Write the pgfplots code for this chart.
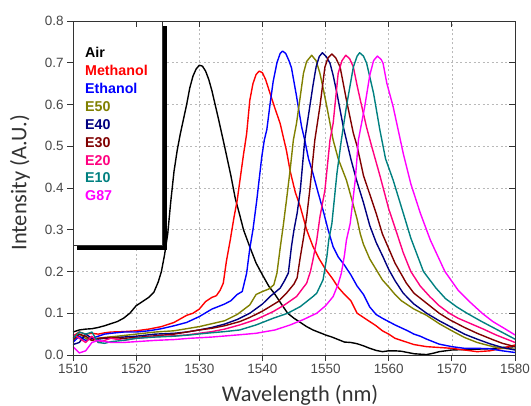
\documentclass[border=0pt]{standalone}
\usepackage{pgfplots}
\pgfplotsset{compat=1.18}
\usepackage{fontspec}
\setmainfont{Liberation Sans}
\newfontfamily\carlito{Carlito}
\definecolor{cAir}{rgb}{0,0,0}
\definecolor{cMeth}{rgb}{1,0,0}
\definecolor{cEth}{rgb}{0,0,1}
\definecolor{cEfifty}{RGB}{128,128,0}
\definecolor{cEforty}{RGB}{0,0,128}
\definecolor{cEthirty}{RGB}{128,0,0}
\definecolor{cEtwenty}{RGB}{255,0,128}
\definecolor{cEten}{RGB}{0,128,128}
\definecolor{cG}{RGB}{255,0,255}
\begin{document}
\begin{tikzpicture}
\begin{axis}[
  scale only axis, width=442bp, height=334bp,
  xmin=1510, xmax=1580, ymin=0, ymax=0.8,
  xtick={1510,1520,...,1580}, ytick={0,0.1,...,0.8},
  tick align=outside, xtick pos=left, ytick pos=left,
  major tick length=6bp,
  /pgf/number format/assume math mode=true,
  xticklabel style={font=\fontsize{13.5}{15}\selectfont, text=black!72, /pgf/number format/1000 sep={}},
  yticklabel style={font=\fontsize{13.5}{15}\selectfont, text=black!72, /pgf/number format/.cd, fixed, fixed zerofill, precision=1},
  grid=major,
  major grid style={gray!55, dash pattern=on 2bp off 2.5bp, line width=0.6bp},
  axis line style={black!80, line width=0.8bp},
  every tick/.style={black!80, line width=0.8bp},
  xlabel={Wavelength (nm)}, ylabel={Intensity (A.U.)},
  xlabel style={font=\carlito\fontsize{22.5}{24}\selectfont, text=black!80, at={(axis description cs:0.5136,-0.1198)}, anchor=center},
  ylabel style={font=\carlito\fontsize{22.5}{24}\selectfont, text=black!80, at={(axis description cs:-0.1199,0.516)}, anchor=center},
  every axis plot/.append style={line width=1.4bp, mark=none, line join=round},
  clip=true,
]
% Air
\addplot[cAir] coordinates {(1510,0.055)(1511,0.06)(1512,0.062)(1513,0.063)(1514,0.066)(1515,0.07)(1516,0.075)(1517,0.08)(1518,0.088)(1519,0.1)(1520,0.118)(1521,0.128)(1522,0.138)(1522.8,0.15)(1523.5,0.175)(1524,0.2)(1524.5,0.24)(1525,0.29)(1525.5,0.37)(1526,0.44)(1526.5,0.49)(1527,0.53)(1528,0.6)(1528.5,0.64)(1529,0.668)(1529.5,0.685)(1530,0.694)(1530.5,0.692)(1531,0.68)(1531.5,0.66)(1532,0.633)(1533,0.568)(1534,0.5)(1535,0.43)(1535.7,0.375)(1536.5,0.33)(1537,0.3)(1538,0.259)(1539,0.22)(1540,0.192)(1541,0.165)(1542,0.145)(1543,0.122)(1544,0.1)(1545,0.088)(1546,0.078)(1547,0.068)(1548,0.06)(1549,0.054)(1550,0.048)(1551,0.043)(1552,0.037)(1553,0.031)(1554,0.03)(1555,0.027)(1556,0.022)(1557,0.016)(1558,0.011)(1559,0.008)(1560,0.01)(1561,0.01)(1562,0.009)(1563,0.006)(1564,0.003)(1565,0.002)(1566,0.001)(1567,0.004)(1568,0.008)(1569,0.01)(1570,0.012)(1572,0.013)(1574,0.014)(1576,0.015)(1578,0.018)(1580,0.02)};
% Methanol
\addplot[cMeth] coordinates {(1510,0.045)(1511,0.055)(1512,0.05)(1513,0.052)(1514,0.05)(1515,0.053)(1516,0.055)(1518,0.056)(1520,0.058)(1522,0.062)(1524,0.068)(1526,0.078)(1528,0.095)(1529,0.1)(1530,0.11)(1531,0.128)(1532,0.138)(1532.7,0.142)(1533.3,0.155)(1533.8,0.172)(1534.3,0.225)(1534.9,0.275)(1535.5,0.33)(1536,0.37)(1536.5,0.425)(1537,0.48)(1537.5,0.53)(1538,0.61)(1538.5,0.65)(1539,0.672)(1539.5,0.68)(1540,0.676)(1540.5,0.66)(1541.2,0.627)(1542,0.59)(1542.8,0.555)(1543.8,0.49)(1544.4,0.44)(1545.2,0.39)(1546,0.355)(1547,0.3)(1548,0.26)(1549,0.23)(1550,0.205)(1551,0.185)(1552,0.162)(1553,0.145)(1554,0.13)(1555,0.1)(1556,0.09)(1557,0.08)(1558,0.07)(1559,0.058)(1560,0.05)(1561,0.04)(1562,0.035)(1563,0.03)(1564,0.025)(1566,0.02)(1568,0.018)(1570,0.016)(1572,0.012)(1574,0.008)(1576,0.01)(1578,0.016)(1580,0.024)};
% Ethanol
\addplot[cEth] coordinates {(1510,0.03)(1511,0.045)(1512,0.035)(1513,0.04)(1514,0.045)(1515,0.05)(1516,0.052)(1518,0.055)(1520,0.055)(1522,0.058)(1524,0.063)(1526,0.07)(1528,0.078)(1530,0.092)(1532,0.11)(1534,0.122)(1535,0.13)(1536,0.145)(1536.8,0.152)(1537.5,0.196)(1538,0.255)(1538.5,0.3)(1539.1,0.37)(1539.9,0.475)(1540.3,0.515)(1540.7,0.54)(1541.2,0.6)(1541.7,0.655)(1542.3,0.7)(1542.8,0.722)(1543.2,0.728)(1543.7,0.722)(1544.2,0.705)(1544.6,0.688)(1545.4,0.62)(1546.2,0.547)(1546.7,0.515)(1547.3,0.47)(1548,0.435)(1548.8,0.39)(1549.6,0.347)(1550.4,0.3)(1551.2,0.259)(1552,0.235)(1553,0.215)(1554,0.192)(1555,0.165)(1556,0.145)(1557,0.115)(1558,0.097)(1559,0.088)(1560,0.08)(1561,0.072)(1562,0.065)(1563,0.058)(1564,0.05)(1565,0.045)(1566,0.038)(1567,0.032)(1568,0.026)(1570,0.02)(1572,0.016)(1574,0.016)(1576,0.015)(1578,0.01)(1580,0.006)};
% E50
\addplot[cEfifty] coordinates {(1510,0.04)(1511,0.05)(1512,0.04)(1513,0.035)(1514,0.04)(1515,0.042)(1517,0.045)(1520,0.05)(1523,0.055)(1526,0.058)(1528,0.063)(1530,0.068)(1532,0.075)(1534,0.082)(1536,0.097)(1538,0.12)(1539,0.145)(1540,0.152)(1541,0.158)(1541.8,0.168)(1542.3,0.196)(1542.8,0.255)(1543.3,0.31)(1543.8,0.37)(1544.4,0.445)(1544.9,0.515)(1545.4,0.555)(1546,0.62)(1546.5,0.675)(1547,0.703)(1547.8,0.718)(1548.5,0.705)(1549.1,0.675)(1549.6,0.64)(1550.2,0.595)(1551.2,0.515)(1552,0.47)(1553.3,0.419)(1554.2,0.37)(1555,0.325)(1555.5,0.29)(1556,0.265)(1557,0.23)(1558,0.205)(1559,0.18)(1560,0.163)(1561,0.145)(1562,0.13)(1564,0.11)(1566,0.095)(1568,0.075)(1570,0.058)(1572,0.042)(1574,0.03)(1576,0.022)(1578,0.016)(1580,0.014)};
% E40
\addplot[cEforty] coordinates {(1510,0.025)(1511,0.03)(1512,0.05)(1513,0.04)(1514,0.038)(1515,0.04)(1517,0.042)(1520,0.045)(1523,0.05)(1526,0.052)(1528,0.055)(1530,0.06)(1532,0.066)(1534,0.074)(1536,0.085)(1538,0.1)(1540,0.122)(1541.2,0.14)(1542.8,0.16)(1543.5,0.178)(1544.1,0.196)(1544.6,0.26)(1545,0.3)(1545.5,0.34)(1546,0.395)(1546.7,0.515)(1547.5,0.595)(1548,0.645)(1548.5,0.69)(1549,0.715)(1549.5,0.724)(1550.1,0.715)(1550.7,0.699)(1551.2,0.67)(1551.8,0.627)(1552.8,0.547)(1553.3,0.515)(1554,0.47)(1554.9,0.419)(1556,0.365)(1557,0.31)(1558,0.27)(1559.1,0.235)(1560,0.205)(1561,0.178)(1562.3,0.148)(1564,0.122)(1566,0.1)(1568,0.082)(1570,0.066)(1572,0.05)(1574,0.038)(1576,0.027)(1578,0.018)(1580,0.012)};
% E30
\addplot[cEthirty] coordinates {(1510,0.035)(1511,0.05)(1512,0.045)(1513,0.035)(1514,0.04)(1516,0.042)(1518,0.04)(1520,0.042)(1523,0.046)(1526,0.05)(1528,0.055)(1530,0.06)(1532,0.064)(1534,0.07)(1536.4,0.08)(1538,0.09)(1540,0.105)(1541.2,0.116)(1542.5,0.128)(1543.8,0.148)(1545,0.17)(1545.5,0.185)(1546,0.235)(1546.5,0.28)(1547,0.33)(1547.5,0.395)(1548.3,0.515)(1549.1,0.595)(1549.9,0.69)(1550.4,0.712)(1551,0.721)(1551.6,0.712)(1552.3,0.69)(1553.3,0.611)(1554.4,0.531)(1555,0.5)(1556,0.43)(1557,0.385)(1558,0.34)(1559,0.29)(1560,0.255)(1561,0.22)(1562.8,0.172)(1564,0.148)(1566,0.124)(1568,0.1)(1569.7,0.084)(1572,0.066)(1574,0.052)(1576.6,0.036)(1578,0.028)(1580,0.02)};
% E20
\addplot[cEtwenty] coordinates {(1510,0.05)(1511,0.04)(1512,0.03)(1513,0.045)(1514,0.03)(1515,0.035)(1516,0.04)(1518,0.035)(1520,0.04)(1523,0.044)(1526,0.046)(1528,0.048)(1530,0.052)(1532,0.056)(1534,0.062)(1536.4,0.072)(1539,0.085)(1541.7,0.104)(1543.5,0.12)(1545.4,0.14)(1547,0.172)(1547.6,0.2)(1548,0.228)(1548.6,0.275)(1549.1,0.33)(1549.9,0.395)(1550.7,0.515)(1551.2,0.555)(1552,0.675)(1552.6,0.705)(1553.2,0.718)(1553.8,0.71)(1554.4,0.69)(1555,0.645)(1555.5,0.611)(1556.5,0.545)(1557.3,0.5)(1558.6,0.43)(1560,0.35)(1561,0.305)(1562.3,0.245)(1563.5,0.2)(1565,0.165)(1566.5,0.14)(1568,0.118)(1569.6,0.1)(1571,0.088)(1573,0.075)(1575,0.062)(1577,0.048)(1580,0.03)};
% E10
\addplot[cEten] coordinates {(1510,0.04)(1511,0.055)(1512,0.05)(1513,0.055)(1514,0.03)(1515,0.028)(1516,0.032)(1518,0.035)(1520,0.04)(1523,0.043)(1526,0.045)(1528.5,0.048)(1531,0.052)(1534,0.056)(1536.4,0.06)(1539,0.072)(1541.7,0.088)(1544,0.1)(1546,0.116)(1548,0.14)(1548.6,0.148)(1549.6,0.18)(1550.2,0.235)(1550.5,0.275)(1551,0.315)(1551.8,0.435)(1552.5,0.515)(1553.3,0.595)(1554.4,0.69)(1555,0.716)(1555.4,0.724)(1556,0.716)(1556.5,0.699)(1557.6,0.627)(1558.6,0.539)(1559.5,0.47)(1560.7,0.419)(1562.3,0.34)(1563.5,0.28)(1565.5,0.2)(1567.5,0.16)(1569,0.135)(1570.8,0.115)(1572.4,0.1)(1574.5,0.082)(1577,0.062)(1580,0.038)};
% G87
\addplot[cG] coordinates {(1510,0.02)(1511,0.005)(1512,0.01)(1513,0.03)(1514,0.035)(1516,0.03)(1518,0.03)(1520,0.032)(1523,0.035)(1526,0.037)(1528.5,0.04)(1532,0.043)(1536,0.048)(1539,0.052)(1542,0.06)(1544.4,0.072)(1546.5,0.085)(1548.6,0.1)(1550,0.118)(1551.2,0.14)(1552,0.17)(1552.5,0.196)(1553,0.24)(1553.3,0.275)(1553.9,0.315)(1554.7,0.419)(1555.2,0.515)(1556.2,0.595)(1557,0.67)(1557.6,0.705)(1558.2,0.716)(1558.8,0.708)(1559.1,0.699)(1559.7,0.651)(1560.7,0.595)(1562.3,0.483)(1563.5,0.41)(1565,0.34)(1566.6,0.275)(1568.9,0.2)(1571,0.155)(1573,0.125)(1574.8,0.1)(1576.5,0.08)(1578.5,0.062)(1580,0.048)};
% legend box
\fill[black] ([xshift=4bp,yshift=-5bp]rel axis cs:0,1) rectangle ([xshift=4bp,yshift=-5bp]axis cs:1524.2,0.263);
\filldraw[fill=white, draw=black!80, line width=0.6bp] (rel axis cs:0,1) rectangle (axis cs:1524.2,0.263);
\end{axis}
\begin{axis}[
  scale only axis, width=442bp, height=334bp,
  xmin=1510, xmax=1580, ymin=0, ymax=0.8,
  xtick={1510,1520,...,1580}, ytick={0,0.1,...,0.8},
  tick align=inside, xtick pos=right, ytick pos=right,
  major tick length=6bp,
  xticklabels={}, yticklabels={},
  axis line style={black!80, line width=0.8bp},
  every tick/.style={black!80, line width=0.8bp},
]
\end{axis}
\begin{scope}[font=\fontsize{14.3}{16}\selectfont\bfseries]
\node[anchor=base west, text=cAir, inner sep=0pt] at (12bp,297bp) {Air};
\node[anchor=base west, text=cMeth, inner sep=0pt] at (12bp,279.15bp) {Methanol};
\node[anchor=base west, text=cEth, inner sep=0pt] at (12bp,261.3bp) {Ethanol};
\node[anchor=base west, text=cEfifty, inner sep=0pt] at (12bp,243.45bp) {E50};
\node[anchor=base west, text=cEforty, inner sep=0pt] at (12bp,225.6bp) {E40};
\node[anchor=base west, text=cEthirty, inner sep=0pt] at (12bp,207.75bp) {E30};
\node[anchor=base west, text=cEtwenty, inner sep=0pt] at (12bp,189.9bp) {E20};
\node[anchor=base west, text=cEten, inner sep=0pt] at (12bp,172.05bp) {E10};
\node[anchor=base west, text=cG, inner sep=0pt] at (12bp,154.2bp) {G87};
\end{scope}
\pgfresetboundingbox
\useasboundingbox (-73bp,-51bp) rectangle (458bp,355bp);
\end{tikzpicture}
\end{document}
